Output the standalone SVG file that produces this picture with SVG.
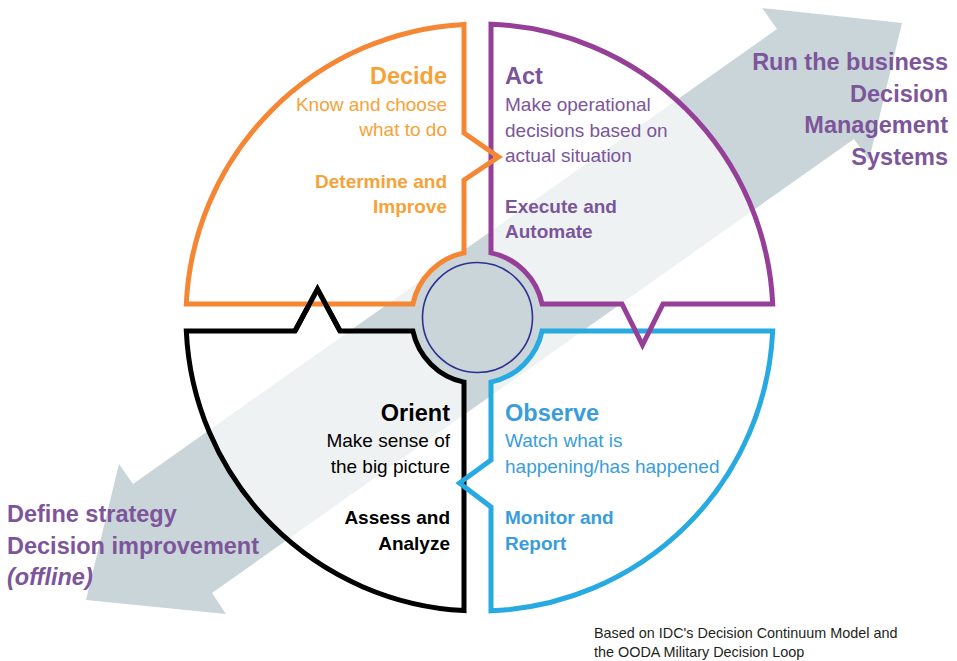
<svg xmlns="http://www.w3.org/2000/svg" width="957" height="661" viewBox="0 0 957 661">
<style>
text{font-family:"Liberation Sans",Arial,Helvetica,sans-serif}
.h{font-size:23.5px;font-weight:bold}
.s{font-size:19px}
.sb{font-size:19px;font-weight:bold}
.e{text-anchor:end}
.fl{fill:#fff;fill-opacity:0.69;stroke:none}
.q{fill:none;stroke-width:5;stroke-linejoin:miter;stroke-miterlimit:10}
.or{stroke:#f58634}.pu{stroke:#953f98}.bk{stroke:#000}.bl{stroke:#27aae1}
.tor{fill:#f7a238}.tpu{fill:#7b559b}.tbk{fill:#000}.tbl{fill:#3a9ddb}
.big{fill:#7d559b;font-size:23.5px;font-weight:bold}
.gray{fill:#c9d5d9}
</style>
<g id="connectors">
<path id="strategy-arrow" class="gray" d="M86,600 L119,464 L133,484 L777,29 L762,8 L902,23 L869,160 L854,139 L212,593 L226,614 Z"/>
</g>
<g id="hub-back"><circle class="gray" cx="477.5" cy="317.5" r="64"/></g>
<g id="orient">
<path class="fl" d="M412.9,331 L186.3,331 A293.5,293.5 0 0 0 464,610.6 L464,382.1 A66,66 0 0 1 412.9,331 Z"/>
<path class="q bk" d="M412.9,331 L340,331 L317.5,289 L295,331 L186.3,331 A293.5,293.5 0 0 0 464,610.6 L464,382.1 A66,66 0 0 1 412.9,331 Z"/>
</g>
<g id="observe">
<path class="fl" d="M542.1,331 L772.7,331 A293.5,293.5 0 0 1 491,610.8 L491,382.1 A66,66 0 0 0 542.1,331 Z"/>
<path class="q bl" d="M542.1,331 L772.7,331 A293.5,293.5 0 0 1 491,610.8 L491,507 L459.5,483 L491,460 L491,382.1 A66,66 0 0 0 542.1,331 Z"/>
</g>
<g id="act">
<path class="fl" d="M491,252.9 L491,24.2 A293.5,293.5 0 0 1 772.7,304 L542.1,304 A66,66 0 0 0 491,252.9 Z"/>
<path class="q pu" d="M491,252.9 L491,24.2 A293.5,293.5 0 0 1 772.7,304 L663,304 L642.5,345 L622,304 L542.1,304 A66,66 0 0 0 491,252.9 Z"/>
</g>
<g id="decide">
<path class="fl" d="M464,252.9 L464,24.4 A293.5,293.5 0 0 0 186.3,304 L412.9,304 A66,66 0 0 1 464,252.9 Z"/>
<path class="q or" d="M464,252.9 L464,180 L498.5,157 L464,133 L464,24.4 A293.5,293.5 0 0 0 186.3,304 L412.9,304 A66,66 0 0 1 464,252.9 Z"/>
</g>
<g id="orient-notch"><path class="q bk" d="M295,331 L317.5,289 L340,331"/></g>
<g id="hub"><circle class="gray" cx="477.5" cy="317.5" r="55" stroke="#2e3192" stroke-width="1.6"/></g>
<g id="decide-text" class="e">
<text x="447" y="84" class="h tor">Decide</text>
<text x="447" y="111" class="s tor">Know and choose</text>
<text x="447" y="136" class="s tor">what to do</text>
<text x="447" y="187.5" class="sb tor">Determine and</text>
<text x="447" y="212.5" class="sb tor">Improve</text>
</g>
<g id="act-text">
<text x="505" y="84" class="h tpu">Act</text>
<text x="505" y="111" class="s tpu">Make operational</text>
<text x="505" y="136.5" class="s tpu">decisions based on</text>
<text x="505" y="161.5" class="s tpu">actual situation</text>
<text x="505" y="213" class="sb tpu">Execute and</text>
<text x="505" y="238" class="sb tpu">Automate</text>
</g>
<g id="orient-text" class="e">
<text x="450" y="421" class="h tbk">Orient</text>
<text x="450" y="447" class="s tbk">Make sense of</text>
<text x="450" y="473" class="s tbk">the big picture</text>
<text x="450" y="524" class="sb tbk">Assess and</text>
<text x="450" y="550" class="sb tbk">Analyze</text>
</g>
<g id="observe-text">
<text x="505" y="421" class="h tbl">Observe</text>
<text x="505" y="447" class="s tbl">Watch what is</text>
<text x="505" y="473" class="s tbl">happening/has happened</text>
<text x="505" y="524" class="sb tbl">Monitor and</text>
<text x="505" y="550" class="sb tbl">Report</text>
</g>
<g id="run-label" class="e">
<text x="948" y="70" class="big">Run the business</text>
<text x="948" y="101.7" class="big">Decision</text>
<text x="948" y="133.3" class="big">Management</text>
<text x="948" y="165" class="big">Systems</text>
</g>
<g id="define-label">
<text x="7" y="522" class="big">Define strategy</text>
<text x="7" y="553.5" class="big">Decision improvement</text>
<text x="7" y="585" class="big" font-style="italic">(offline)</text>
</g>
<g id="footnote" font-size="14.4" fill="#231f20">
<text x="594" y="638.3">Based on IDC's Decision Continuum Model and</text>
<text x="594" y="656.5">the OODA Military Decision Loop</text>
</g>
</svg>
